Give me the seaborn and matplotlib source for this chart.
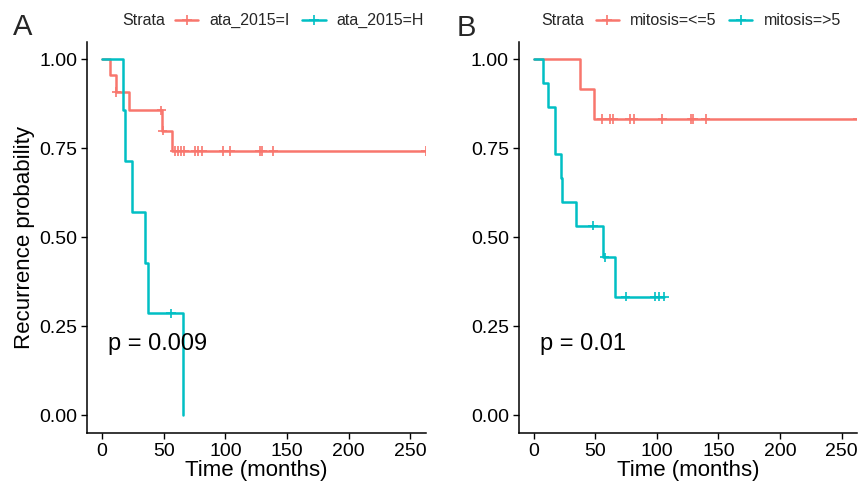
import matplotlib
matplotlib.use("Agg")
import matplotlib.pyplot as plt
from matplotlib.lines import Line2D
import numpy as np
import pandas as pd
import seaborn as sns

# Panel A: ata_2015 strata (step times / survival levels)
a_low_times = [0, 6.5, 11, 21.5, 48.4, 56.5, 262.8]
a_low_surv = [1.0, 0.955, 0.909, 0.857, 0.800, 0.743, 0.743]
a_low_cens = [11.5, 48.0, 49.0, 59, 61.5, 64, 66.5, 75.5, 78, 81, 98.4, 103.8, 128, 130, 138.9, 262.8]

a_high_times = [0, 17.3, 18.3, 24.6, 35.0, 37.6, 65.4, 65.4]
a_high_surv = [1.0, 0.857, 0.714, 0.571, 0.429, 0.286, 0.0, 0.0]
a_high_cens = [56.0]

# Panel B: mitosis strata
b_low_times = [0, 37.5, 48.9, 263.0]
b_low_surv = [1.0, 0.917, 0.833, 0.833]
b_low_cens = [55.4, 61.6, 64.3, 77.9, 81.1, 104.4, 127.9, 129.2, 139.6, 263.0]

b_high_times = [0, 7.6, 11.6, 17.0, 17.6, 22.4, 23.0, 34.6, 56.2, 65.7, 106.0]
b_high_surv = [1.0, 0.933, 0.867, 0.800, 0.733, 0.667, 0.600, 0.533, 0.444, 0.333, 0.333]
b_high_cens = [48.1, 57.6, 74.6, 98.1, 101.8, 106.0]

a_labels = ["ata_2015=I", "ata_2015=H"]
b_labels = ["mitosis=<=5", "mitosis=>5"]
p_values = ["p = 0.009", "p = 0.01"]
x_ticks = [0, 50, 100, 150, 200, 250]
y_ticks = [0.0, 0.25, 0.5, 0.75, 1.0]

RED = "#F8766D"
CYAN = "#00BFC4"

sns.set_theme(style="ticks")
plt.rcParams["font.family"] = ["Liberation Sans", "DejaVu Sans"]


def surv_at(times, surv, t):
    idx = np.searchsorted(times, t, side="right") - 1
    return np.asarray(surv)[idx]


def draw_panel(ax, curves, labels, pval):
    steps = []
    cens = []
    for (times, surv, ctimes), lab in zip(curves, labels):
        steps.append(pd.DataFrame({"time": times, "surv": surv, "strata": lab}))
        cens.append(pd.DataFrame({"time": ctimes,
                                  "surv": surv_at(times, surv, ctimes),
                                  "strata": lab}))
    steps = pd.concat(steps, ignore_index=True)
    cens = pd.concat(cens, ignore_index=True)
    pal = dict(zip(labels, [RED, CYAN]))

    sns.lineplot(data=steps, x="time", y="surv", hue="strata", palette=pal,
                 estimator=None, sort=False, drawstyle="steps-post",
                 linewidth=1.8, legend=False, ax=ax)
    sns.scatterplot(data=cens, x="time", y="surv", hue="strata", palette=pal,
                    marker="+", s=45, linewidth=1.2, legend=False, ax=ax, zorder=3)

    ax.set_xlim(-12.3, 262.5)
    ax.set_ylim(-0.05, 1.05)
    ax.set_xticks(x_ticks)
    ax.set_yticks(y_ticks)
    ax.set_yticklabels([f"{v:.2f}" for v in y_ticks])
    ax.tick_params(labelsize=14, length=4.5, width=1, color="black", pad=2.5,
                   labelcolor="black")
    for side in ["left", "bottom"]:
        ax.spines[side].set_color("black")
        ax.spines[side].set_linewidth(1.1)
    sns.despine(ax=ax)
    ax.set_xlabel("Time (months)", fontsize=16, color="black", labelpad=0)
    ax.set_ylabel("")
    ax.text(5, 0.2, pval, fontsize=17, ha="left", va="center", color="black")


fig = plt.figure(figsize=(8.59, 4.86), dpi=100)
ax_a = fig.add_axes([87 / 859, 53 / 486, 338.6 / 859, 391.3 / 486])
ax_b = fig.add_axes([518.5 / 859, 53 / 486, 338.6 / 859, 391.3 / 486])

draw_panel(ax_a, [(a_low_times, a_low_surv, a_low_cens),
                  (a_high_times, a_high_surv, a_high_cens)], a_labels, p_values[0])
draw_panel(ax_b, [(b_low_times, b_low_surv, b_low_cens),
                  (b_high_times, b_high_surv, b_high_cens)], b_labels, p_values[1])
ax_a.set_ylabel("Recurrence probability", fontsize=16, color="black", labelpad=3)

# legends on top of each panel
for ax, labels, strata_x, leg_x in [(ax_a, a_labels, 122 / 859, 175 / 859),
                                    (ax_b, b_labels, 541.7 / 859, 595.7 / 859)]:
    handles = [Line2D([], [], color=c, lw=1.8, marker="+", markersize=7,
                      markeredgewidth=1.2) for c in [RED, CYAN]]
    fig.text(strata_x, 0.957, "Strata", fontsize=11.5, ha="left", va="center")
    ax.legend(handles, labels, ncol=2, loc="center left",
              bbox_to_anchor=(leg_x, 0.957), bbox_transform=fig.transFigure,
              frameon=False, fontsize=11.5, borderaxespad=0, borderpad=0,
              handlelength=1.45, handletextpad=0.7, columnspacing=0.8,
              numpoints=1)

fig.text(23 / 859, 1 - 27 / 486, "A", fontsize=21, ha="center", va="center")
fig.text(466 / 859, 1 - 27.5 / 486, "B", fontsize=21, ha="center", va="center")

fig.savefig("out.png", dpi=100)
plt.close(fig)
